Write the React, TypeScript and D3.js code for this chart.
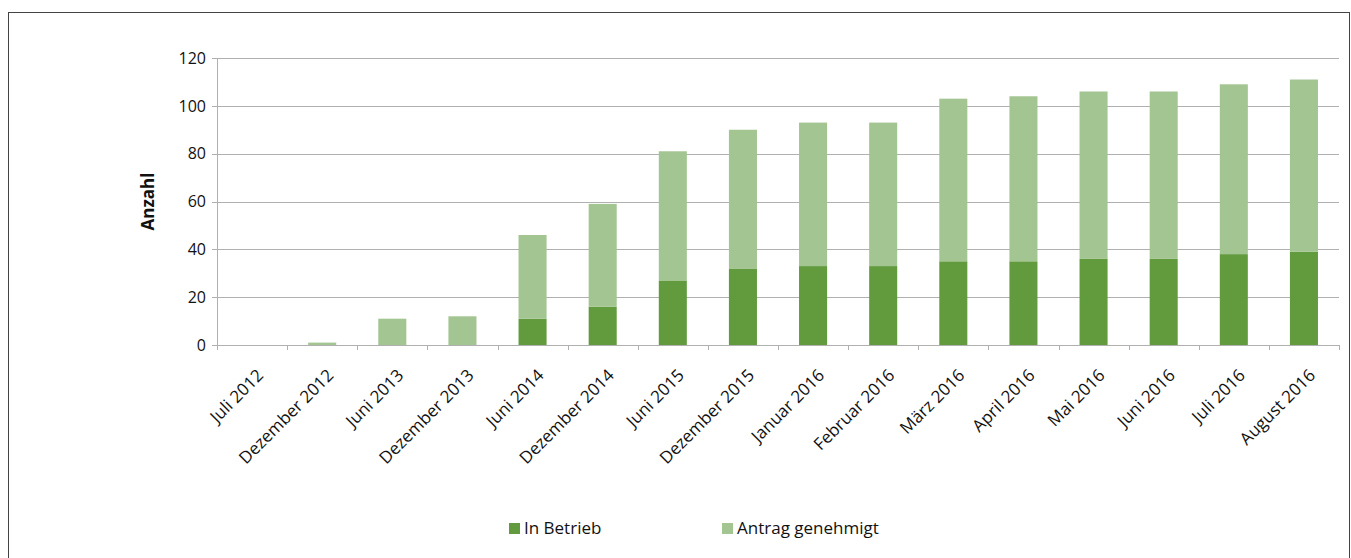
import React from "react";
import * as d3 from "d3";

const categories = [
  "Juli 2012", "Dezember 2012", "Juni 2013", "Dezember 2013", "Juni 2014", "Dezember 2014",
  "Juni 2015", "Dezember 2015", "Januar 2016", "Februar 2016", "März 2016", "April 2016",
  "Mai 2016", "Juni 2016", "Juli 2016", "August 2016",
];
const inBetrieb = [0, 0, 0, 0, 11, 16, 27, 32, 33, 33, 35, 35, 36, 36, 38, 39];
const antragGenehmigt = [0, 1, 11, 12, 35, 43, 54, 58, 60, 60, 68, 69, 70, 70, 71, 72];
const yTicks = [0, 20, 40, 60, 80, 100, 120];
const seriesNames = ["In Betrieb", "Antrag genehmigt"];
const colors = ["#629b3e", "#a3c592"];

const W = 1351;
const H = 558;
const left = 217, right = 1339, top = 58, bottom = 345;
const font = "'Open Sans', 'Noto Sans', sans-serif";

export default function App() {
  const x = d3.scaleBand<string>().domain(categories).range([left, right]).paddingInner(0.6).paddingOuter(0.3);
  const xb = d3.scaleBand<string>().domain(categories).range([left, right]);
  const y = d3.scaleLinear().domain([0, 120]).range([bottom, top]);
  const stacked = d3.stack<any>().keys(["a", "b"])(
    categories.map((c, i) => ({ c, a: inBetrieb[i], b: antragGenehmigt[i] }))
  );
  const grid = "#b0b0b0";
  return (
    <svg width={W} height={H} style={{ position: "absolute", left: 0, top: 0 }}>
      <rect x={0} y={0} width={W} height={H} fill="#fff" />
      <rect x={8.5} y={12.5} width={1341} height={600} fill="none" stroke="#444" strokeWidth={1} />
      {yTicks.map((t) => (
        <g key={t}>
          <line x1={left - 5} x2={right} y1={Math.round(y(t)) + 0.5} y2={Math.round(y(t)) + 0.5} stroke={grid} />
          <text x={left - 11} y={y(t)} dy="0.36em" textAnchor="end" fontFamily={font} fontSize={16} fill="#111">
            {t}
          </text>
        </g>
      ))}
      <line x1={left + 0.5} x2={left + 0.5} y1={top} y2={bottom + 5} stroke={grid} />
      {categories.map((c) => (
        <line key={c} x1={Math.round(xb(c)! + xb.bandwidth()) + 0.5} x2={Math.round(xb(c)! + xb.bandwidth()) + 0.5}
          y1={bottom} y2={bottom + 5} stroke={grid} />
      ))}
      {stacked.map((s, si) => (
        <g key={si} fill={colors[si]}>
          {s.map((d, i) => (
            <rect key={i} x={x(categories[i])} width={x.bandwidth()} y={y(d[1])} height={y(d[0]) - y(d[1])} />
          ))}
        </g>
      ))}
      {categories.map((c) => {
        const cx = xb(c)! + xb.bandwidth() / 2 + 4;
        const cy = bottom + 23;
        return (
          <text key={c} transform={`translate(${cx},${cy}) rotate(-45)`} textAnchor="end" dy="0.7em"
            fontFamily={font} fontSize={17} fill="#111">
            {c}
          </text>
        );
      })}
      <text transform={`translate(${154},${(top + bottom) / 2}) rotate(-90)`} textAnchor="middle"
        fontFamily={font} fontSize={17} fontWeight="bold" fill="#111">
        Anzahl
      </text>
      {seriesNames.map((n, i) => {
        const lx = [509, 722][i];
        return (
          <g key={n}>
            <rect x={lx} y={523} width={11} height={11} fill={colors[i]} />
            <text x={lx + 15} y={534} fontFamily={font} fontSize={17} fill="#111">
              {n}
            </text>
          </g>
        );
      })}
    </svg>
  );
}
